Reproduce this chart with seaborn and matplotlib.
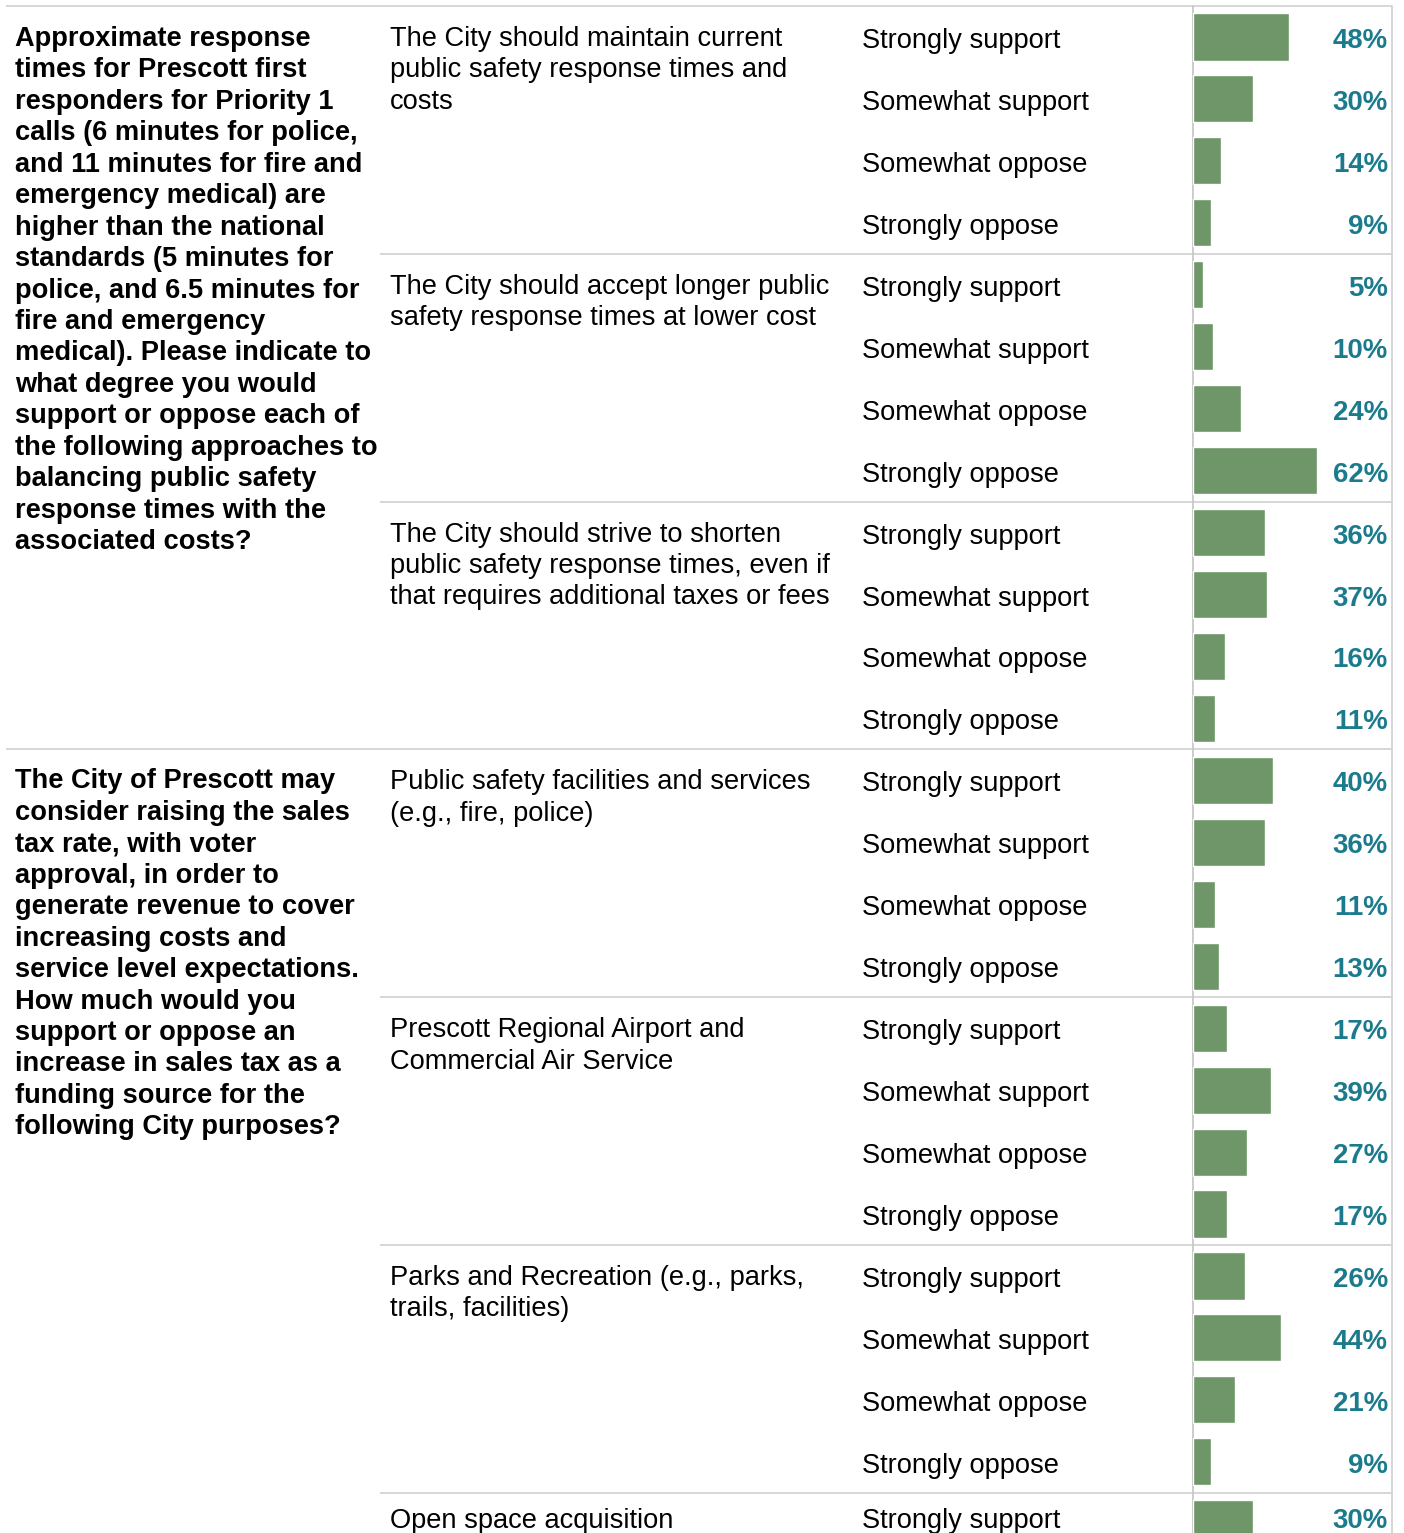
import matplotlib
matplotlib.use("Agg")
import matplotlib.pyplot as plt
import seaborn as sns
import pandas as pd
import numpy as np

sns.set_theme(style="white")
plt.rcParams['font.family'] = ['Liberation Sans', 'DejaVu Sans']

# ---------------- data ----------------
responses = ["Strongly support", "Somewhat support", "Somewhat oppose", "Strongly oppose"]

q1_lines = [
    "Approximate response", "times for Prescott first", "responders for Priority 1",
    "calls (6 minutes for police,", "and 11 minutes for fire and", "emergency medical) are",
    "higher than the national", "standards (5 minutes for", "police, and 6.5 minutes for",
    "fire and emergency", "medical). Please indicate to", "what degree you would",
    "support or oppose each of", "the following approaches to", "balancing public safety",
    "response times with the", "associated costs?",
]
q2_lines = [
    "The City of Prescott may", "consider raising the sales", "tax rate, with voter",
    "approval, in order to", "generate revenue to cover", "increasing costs and",
    "service level expectations.", "How much would you", "support or oppose an",
    "increase in sales tax as a", "funding source for the", "following City purposes?",
]

items = [
    ["The City should maintain current", "public safety response times and", "costs"],
    ["The City should accept longer public", "safety response times at lower cost"],
    ["The City should strive to shorten", "public safety response times, even if",
     "that requires additional taxes or fees"],
    ["Public safety facilities and services", "(e.g., fire, police)"],
    ["Prescott Regional Airport and", "Commercial Air Service"],
    ["Parks and Recreation (e.g., parks,", "trails, facilities)"],
    ["Open space acquisition"],
]
item_question = [0, 0, 0, 1, 1, 1, 1]

values = [
    [48, 30, 14, 9],
    [5, 10, 24, 62],
    [36, 37, 16, 11],
    [40, 36, 11, 13],
    [17, 39, 27, 17],
    [26, 44, 21, 9],
    [30],
]

# ---------------- build table ----------------
rows = []
r = 0
for gi, vals in enumerate(values):
    for ri, v in enumerate(vals):
        rows.append({"row": r, "group": gi, "response": responses[ri], "pct": v})
        r += 1
df = pd.DataFrame(rows)
n_rows = len(df)

# ---------------- layout (pixels) ----------------
W, H = 1404, 1533
TOP = 6.0
PITCH = 61.95
GROUP_H = PITCH * 4
BAR_L, BAR_R = 1193, 1392
LINE_C = "#d3d3d3"
BAR_C = "#6e9669"
PCT_C = "#1b7b8c"
FS = 19.6
LINE_H = 31.45

fig = plt.figure(figsize=(W / 100, H / 100), dpi=100)

ax0 = fig.add_axes([0, 0, 1, 1])
ax0.set_xlim(0, W)
ax0.set_ylim(H, 0)
ax0.axis("off")

# bar axes
axb = fig.add_axes([BAR_L / W, 0, (BAR_R - BAR_L) / W, (H - TOP) / H])
sns.barplot(data=df, x="pct", y="row", orient="h", order=list(range(n_rows)),
            color=BAR_C, saturation=1, width=0.76, ax=axb)
axb.set_xlim(0, (BAR_R - BAR_L) / 2.0)
axb.set_ylim(-0.5 + (H - TOP) / PITCH, -0.5)
axb.axis("off")
axb.patch.set_alpha(0)

def row_y(i):
    return TOP + PITCH * i + PITCH / 2

# grid lines
n_groups = len(values)
for g in range(n_groups):
    y = TOP + GROUP_H * g
    x0 = 6 if (g == 0 or item_question[g] != item_question[g - 1]) else 380
    ax0.plot([x0, BAR_R], [y, y], color=LINE_C, lw=1.3, solid_capstyle="butt")
ax0.plot([BAR_L, BAR_L], [TOP, H], color="#c8c8c8", lw=1.3)
ax0.plot([BAR_R, BAR_R], [TOP, H], color=LINE_C, lw=1.3)

# response labels and percentages
for _, rw in df.iterrows():
    y = min(row_y(rw["row"]) + 4, 1521)
    ax0.text(862, y, rw["response"], ha="left", va="center", fontsize=FS, color="black")
    ax0.text(1388, y, f"{rw['pct']}%", ha="right", va="center", fontsize=FS + 0.3,
             color=PCT_C, fontweight="bold")

# item labels
for g, lines in enumerate(items):
    y0 = min(TOP + GROUP_H * g + 33, 1521)
    for k, ln in enumerate(lines):
        ax0.text(390, y0 + k * LINE_H, ln, ha="left", va="center", fontsize=FS, color="black")

# question labels
for lines, y0 in [(q1_lines, TOP + 33), (q2_lines, TOP + GROUP_H * 3 + 32)]:
    for k, ln in enumerate(lines):
        ax0.text(15, y0 + k * LINE_H, ln, ha="left", va="center", fontsize=FS,
                 color="black", fontweight="bold")

fig.savefig("out.png", dpi=100)
